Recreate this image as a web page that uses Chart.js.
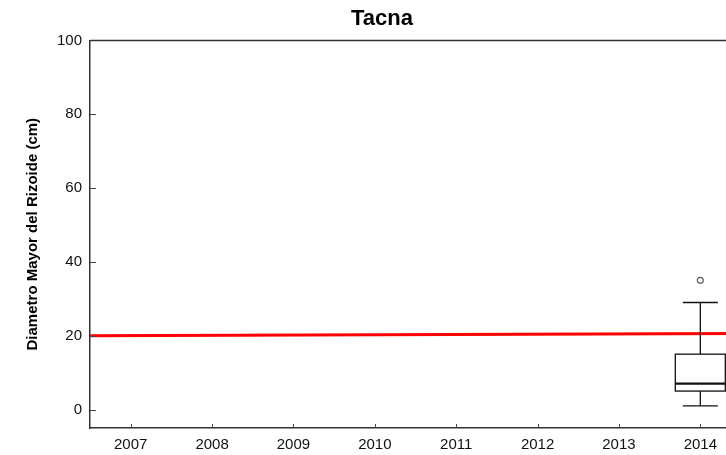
<!DOCTYPE html>
<html>
<head>
<meta charset="utf-8">
<script src="https://cdn.jsdelivr.net/npm/chart.js@4.4.1/dist/chart.umd.min.js"></script>
<style>
  html, body { margin: 0; padding: 0; background: #fff; overflow: hidden; }
  #wrap { width: 726px; height: 455px; overflow: hidden; }
</style>
</head>
<body>
<div id="wrap"><canvas id="chart" width="762" height="455"></canvas></div>
<script>
// datos
const years = [2007, 2008, 2009, 2010, 2011, 2012, 2013, 2014];
const yTicks = [0, 20, 40, 60, 80, 100];
const trendX = [2006.5, 2014.5];
const trendY = [20.0, 20.6];
// caja por año
const boxYears = [2014];
const boxLow = [1];
const boxQ1 = [5];
const boxMedian = [7];
const boxQ3 = [15];
const boxHigh = [29];
const boxOutliers = [[35]];

const FONT = "'Liberation Sans', Arial, sans-serif";

// dibuja las cajas, los ticks interiores y el borde superior
const boxPlugin = {
  id: "boxPlot",
  afterDatasetsDraw(chart) {
    const ctx = chart.ctx;
    const x = chart.scales.x;
    const y = chart.scales.y;
    const area = chart.chartArea;
    const half = 25, cap = 17.5;

    ctx.save();
    ctx.strokeStyle = "#111";
    ctx.lineWidth = 1.3;
    boxYears.forEach((yr, i) => {
      const cx = x.getPixelForValue(yr);
      const pLow = y.getPixelForValue(boxLow[i]);
      const pQ1 = y.getPixelForValue(boxQ1[i]);
      const pMed = y.getPixelForValue(boxMedian[i]);
      const pQ3 = y.getPixelForValue(boxQ3[i]);
      const pHigh = y.getPixelForValue(boxHigh[i]);
      ctx.beginPath();
      ctx.moveTo(cx, pQ3); ctx.lineTo(cx, pHigh);
      ctx.moveTo(cx - cap, pHigh); ctx.lineTo(cx + cap, pHigh);
      ctx.moveTo(cx, pQ1); ctx.lineTo(cx, pLow);
      ctx.moveTo(cx - cap, pLow); ctx.lineTo(cx + cap, pLow);
      ctx.stroke();
      ctx.fillStyle = "#fff";
      ctx.fillRect(cx - half, pQ3, half * 2, pQ1 - pQ3);
      ctx.strokeRect(cx - half, pQ3, half * 2, pQ1 - pQ3);
      ctx.lineWidth = 2.2;
      ctx.beginPath();
      ctx.moveTo(cx - half, pMed); ctx.lineTo(cx + half, pMed);
      ctx.stroke();
      ctx.lineWidth = 1.1;
      ctx.strokeStyle = "#555";
      boxOutliers[i].forEach(v => {
        ctx.beginPath();
        ctx.arc(cx, y.getPixelForValue(v), 3, 0, Math.PI * 2);
        ctx.stroke();
      });
      ctx.strokeStyle = "#111";
      ctx.lineWidth = 1.3;
    });

    // ticks hacia adentro
    ctx.strokeStyle = "#444";
    ctx.lineWidth = 1;
    ctx.beginPath();
    yTicks.forEach(v => {
      const py = Math.round(y.getPixelForValue(v)) + 0.5;
      ctx.moveTo(area.left, py); ctx.lineTo(area.left + 6, py);
    });
    years.forEach(v => {
      const px = Math.round(x.getPixelForValue(v)) + 0.5;
      ctx.moveTo(px, area.bottom); ctx.lineTo(px, area.bottom - 4);
    });
    ctx.stroke();

    // borde superior
    ctx.strokeStyle = "#333";
    ctx.lineWidth = 1.5;
    ctx.beginPath();
    ctx.moveTo(area.left, area.top); ctx.lineTo(area.right, area.top);
    ctx.stroke();
    ctx.restore();
  }
};

new Chart(document.getElementById("chart"), {
  type: "line",
  data: {
    datasets: [{
      data: trendX.map((v, i) => ({ x: v, y: trendY[i] })),
      borderColor: "#ff0000",
      borderWidth: 3,
      pointRadius: 0,
      fill: false
    }]
  },
  options: {
    responsive: false,
    animation: false,
    devicePixelRatio: 1,
    layout: { padding: { left: 23, right: 21, top: 0, bottom: 0 } },
    plugins: {
      legend: { display: false },
      tooltip: { enabled: false },
      title: {
        display: true,
        text: "Tacna",
        color: "#000",
        font: { family: FONT, size: 22, weight: "bold" },
        padding: { top: 6, bottom: 8 }
      }
    },
    scales: {
      x: {
        type: "linear",
        min: 2006.5,
        max: 2014.5,
        afterBuildTicks: s => { s.ticks = years.map(v => ({ value: v })); },
        afterFit: s => { s.height = 27; },
        grid: { display: false, drawTicks: false },
        border: { display: true, color: "#333", width: 1.5 },
        ticks: {
          padding: 8,
          color: "#111",
          font: { family: FONT, size: 15 },
          callback: v => String(v)
        }
      },
      y: {
        min: -5,
        max: 100,
        afterBuildTicks: s => { s.ticks = yTicks.map(v => ({ value: v })); },
        afterFit: s => { s.width = 67; },
        grid: { display: false, drawTicks: false },
        border: { display: true, color: "#333", width: 1.5 },
        ticks: {
          padding: 8,
          color: "#111",
          font: { family: FONT, size: 15 }
        },
        title: {
          display: true,
          text: "Diametro Mayor del Rizoide (cm)",
          color: "#000",
          font: { family: FONT, size: 15, weight: "bold" },
          padding: { top: 1, bottom: 0 }
        }
      }
    }
  },
  plugins: [boxPlugin]
});
</script>
</body>
</html>
